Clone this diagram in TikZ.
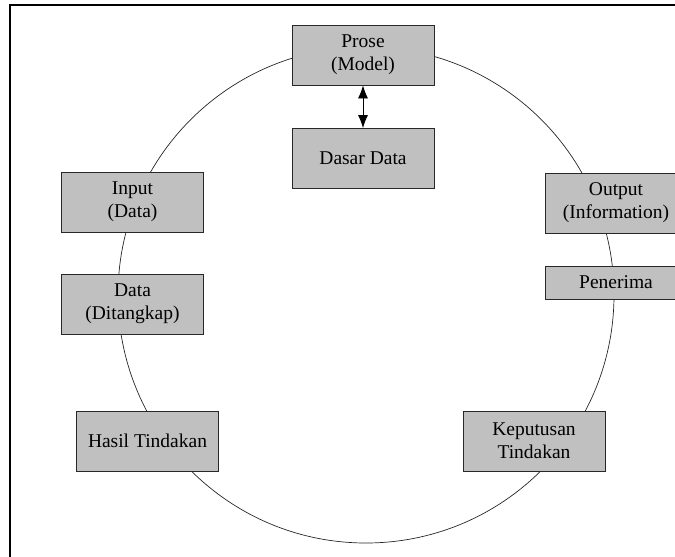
\documentclass[tikz,border=0pt]{standalone}
\usepackage{fontspec}
\setmainfont{Liberation Serif}
\usetikzlibrary{arrows.meta}
\definecolor{boxgray}{RGB}{192,192,192}
\definecolor{edgegray}{RGB}{40,40,40}
\begin{document}
\begin{tikzpicture}[x=1pt,y=-1pt,
  box/.style={draw=edgegray, fill=boxgray, line width=0.8pt,
    minimum width=142pt, minimum height=60pt, inner sep=0pt,
    align=center, font=\fontsize{19.5}{23}\selectfont},
  flatbox/.style={box, minimum height=33pt},
  twoway/.style={{Latex[length=13pt,width=10pt]}-{Latex[length=13pt,width=10pt]}, line width=0.8pt}]
\useasboundingbox (0,0) rectangle (675,557);
% outer frame (top and left edges)
\draw[line width=2pt] (10,557) -- (10,5) -- (675,5);
% information cycle
\draw[line width=0.7pt, black!85] (366,295) circle[radius=248pt];
% stages on the cycle
\node[box] (prose) at (363,55) {Prose\\(Model)};
\node[box] (dasar) at (363,158.5) {Dasar Data};
\node[box] (input) at (132.5,202) {Input\\(Data)};
\node[box] (data) at (132.5,304) {Data\\(Ditangkap)};
\node[box] (output) at (616,203) {Output\\(Information)};
\node[flatbox] (penerima) at (616,282.5) {Penerima};
\node[box] (hasil) at (147.5,441) {Hasil Tindakan};
\node[box] (keputusan) at (534,441) {Keputusan\\Tindakan};
% link between model and database
\draw[twoway] (prose) -- (dasar);
\end{tikzpicture}
\end{document}
